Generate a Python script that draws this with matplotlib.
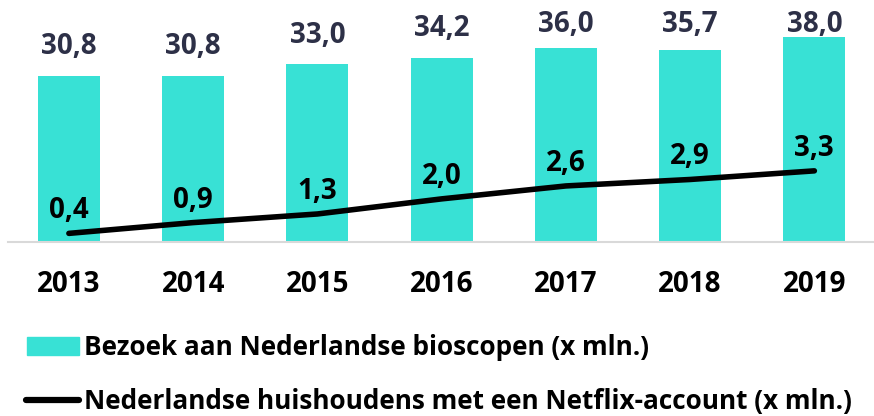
import numpy as np
import matplotlib.pyplot as plt
from matplotlib.patches import Rectangle
from matplotlib.lines import Line2D

plt.rcParams['font.family'] = ['Open Sans', 'DejaVu Sans']
plt.rcParams['font.weight'] = 'bold'

# data
years = ['2013', '2014', '2015', '2016', '2017', '2018', '2019']
bioscoop = [30.8, 30.8, 33.0, 34.2, 36.0, 35.7, 38.0]
netflix = [0.4, 0.9, 1.3, 2.0, 2.6, 2.9, 3.3]
label_bars = 'Bezoek aan Nederlandse bioscopen (x mln.)'
label_line = 'Nederlandse huishoudens met een Netflix-account (x mln.)'

teal = '#38E1D5'
navy = '#2D3047'
W, H = 874, 416

fig = plt.figure(figsize=(W / 100, H / 100), dpi=100)
ax = fig.add_axes([8 / W, (H - 242) / H, 866 / W, 215.6 / H])
x = np.arange(len(years))

ax.bar(x, bioscoop, width=0.5, color=teal, zorder=2)
ax.set_ylim(0, 40)
ax.set_xlim(-0.49, 6.48)
# labels sit above the bars, but are pushed down near the top like excel does
for xi, v in zip(x, bioscoop):
    ax.text(xi, min(v + 4.0, 39.0), f'{v:.1f}'.replace('.', ','),
            ha='center', va='baseline', fontsize=20, fontweight='bold', color=navy)

# netflix on a second axis
ax2 = ax.twinx()
ax2.plot(x, netflix, color='black', lw=4, solid_capstyle='round', zorder=3)
ax2.set_ylim(0, 10)
for xi, v in zip(x, netflix):
    ax2.annotate(f'{v:.1f}'.replace('.', ','), (xi, v), xytext=(0, 10.8),
                 textcoords='offset points', ha='center', va='baseline',
                 fontsize=20, fontweight='bold', color='black')

for a in (ax, ax2):
    for s in ['top', 'right', 'left']:
        a.spines[s].set_visible(False)
    a.set_yticks([])
ax2.spines['bottom'].set_visible(False)
ax.spines['bottom'].set_color('#D9D9D9')
ax.spines['bottom'].set_linewidth(1.5)

ax.set_xticks(x)
ax.set_xticklabels(years, fontsize=20, fontweight='bold')
ax.tick_params(axis='x', length=0, pad=20)

# legend below the chart
fig.patches.append(Rectangle((27 / W, 1 - 355 / H), 52 / W, 18 / H,
                             transform=fig.transFigure, color=teal))
fig.lines.append(Line2D([26 / W, 79 / W], [1 - 400 / H] * 2, transform=fig.transFigure,
                        color='black', lw=4.5, solid_capstyle='round'))
fig.text(84 / W, 1 - 355 / H, label_bars, fontsize=18.8, fontweight='bold', va='baseline')
fig.text(84 / W, 1 - 409 / H, label_line, fontsize=18.8, fontweight='bold', va='baseline')

fig.savefig('out.png', dpi=100)
